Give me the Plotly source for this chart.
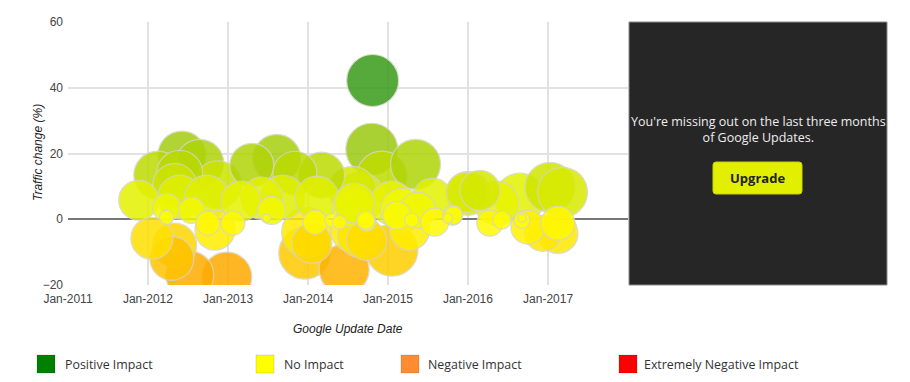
import plotly.graph_objects as go

# ---- data ----
update_dates = [
    "2012-06-04", "2012-08-25", "2012-02-15", "2012-05-25", "2012-05-02", "2012-11-15",
    "2012-05-25", "2012-09-26", "2011-11-20", "2012-03-26", "2012-03-26", "2012-07-18",
    "2012-10-01", "2013-01-23", "2012-11-02", "2012-01-19", "2012-05-02", "2012-04-19",
    "2012-07-10", "2012-12-26",
    "2013-04-19", "2013-08-11", "2013-11-02", "2014-03-04", "2013-06-04", "2013-09-08",
    "2013-07-19", "2013-06-26", "2014-02-11", "2014-07-23", "2014-07-23", "2014-02-02",
    "2014-04-19", "2014-05-25", "2014-09-26", "2013-12-26", "2014-01-19", "2013-12-17",
    "2014-06-15", "2014-07-23", "2014-09-26", "2013-03-01",
    "2014-10-23", "2014-10-19", "2014-12-04", "2015-05-07", "2014-08-02", "2014-08-25",
    "2015-01-19", "2015-03-08", "2014-09-22", "2015-02-11", "2015-04-19", "2015-05-16",
    "2015-07-23", "2015-08-02", "2015-10-01", "2015-10-28", "2015-12-26", "2015-01-19",
    "2014-08-25", "2015-04-10",
    "2016-01-01", "2016-05-11", "2016-08-25", "2017-01-10", "2017-03-08", "2016-02-25",
    "2016-04-10", "2016-06-04", "2015-10-23", "2016-09-04", "2016-09-04", "2016-10-01",
    "2017-02-15", "2017-02-15", "2016-12-08",
]
traffic_change = [
    19.5, 17.0, 13.4, 14.0, 10.3, 10.5,
    6.7, 6.7, 5.8, 3.6, 0.6, 2.7,
    -1.2, -1.2, -3.3, -5.8, -7.9, -11.9,
    -17.0, -17.6,
    16.4, 18.5, 14.0, 13.4, 6.4, 6.7,
    2.7, 0.3, 6.4, 8.8, 3.6, -0.9,
    -0.3, -0.9, -0.9, -4.0, -7.3, -10.3,
    -15.2, -3.3, -6.4, 5.5,
    42.2, 21.3, 13.1, 16.7, 4.9, 6.7,
    4.9, 2.7, -0.3, 1.2, -0.3, 2.7,
    6.4, -0.9, 0.3, 1.2, 8.2, -9.4,
    -4.9, -3.3,
    7.9, 4.9, 6.4, 9.7, 8.2, 8.8,
    -1.2, -0.3, 1.2, -0.3, 0.3, -2.4,
    -1.2, -4.3, -4.3,
]
impact_reach = [
    24, 24, 24, 23, 22, 24,
    22, 22, 20, 14, 7, 13,
    12, 12, 20, 21, 22, 22,
    24, 25,
    22, 24, 22, 23, 21, 22,
    14, 4, 22, 24, 20, 12,
    7, 7, 9, 25, 20, 26,
    25, 22, 20, 20,
    26, 26, 25, 25, 20, 25,
    22, 22, 9, 14, 7, 18,
    20, 14, 5, 9, 20, 26,
    22, 20,
    22, 22, 25, 25, 25, 20,
    13, 9, 10, 8, 4, 17,
    17, 20, 18,
]

x_ticks = ["2011-01-01", "2012-01-01", "2013-01-01", "2014-01-01",
           "2015-01-01", "2016-01-01", "2017-01-01"]
x_tick_labels = ["Jan-2011", "Jan-2012", "Jan-2013", "Jan-2014",
                 "Jan-2015", "Jan-2016", "Jan-2017"]
y_ticks = [-20, 0, 20, 40, 60]

legend_labels = ["Positive Impact", "No Impact", "Negative Impact", "Extremely Negative Impact"]
legend_colors = ["#008000", "#ffff00", "#ff8c33", "#ff0000"]

# draw larger bubbles first, smaller on top
order = sorted(range(len(impact_reach)), key=lambda i: -impact_reach[i])
xs = [update_dates[i] for i in order]
ys = [traffic_change[i] for i in order]
ss = [impact_reach[i] for i in order]

colorscale = [
    [0.0, "#ffa000"],
    [0.0769, "#ffb400"],
    [0.1846, "#ffd400"],
    [0.3077, "#ffff00"],
    [0.40, "#e4f200"],
    [0.5077, "#bedc00"],
    [0.6154, "#a2cc10"],
    [1.0, "#2c961c"],
]

fig = go.Figure()
fig.add_trace(go.Scatter(
    x=xs, y=ys, mode="markers",
    marker=dict(size=ss, sizemode="diameter", sizeref=0.5,
                color=ys, colorscale=colorscale, cmin=-20, cmax=45,
                opacity=0.85, line=dict(color="#d6d6c6", width=1.2)),
    hoverinfo="x+y", showlegend=False,
))

W, H = 910, 382
L, R, T, B = 68, 282, 22, 97
pw, ph = W - L - R, H - T - B

def px(x):
    return (x - L) / pw

def py(y):
    return (H - B - y) / ph

shapes = []
annotations = []

# dark upgrade panel
shapes.append(dict(type="rect", xref="paper", yref="paper",
                   x0=px(629), x1=px(887), y0=py(285), y1=py(22),
                   fillcolor="#262626", line=dict(color="#8a8a8a", width=1), layer="above"))
# rounded button
bx0, bx1, by0, by1 = px(713), px(802), py(194), py(162)
rx, ry = 3 / pw, 3 / ph
path = (f"M {bx0+rx},{by0} L {bx1-rx},{by0} Q {bx1},{by0} {bx1},{by0+ry} "
        f"L {bx1},{by1-ry} Q {bx1},{by1} {bx1-rx},{by1} L {bx0+rx},{by1} "
        f"Q {bx0},{by1} {bx0},{by1-ry} L {bx0},{by0+ry} Q {bx0},{by0} {bx0+rx},{by0} Z")
shapes.append(dict(type="path", xref="paper", yref="paper", path=path,
                   fillcolor="#e2ef00", line=dict(color="#c8d400", width=1), layer="above"))
annotations.append(dict(xref="paper", yref="paper", x=px(758), y=py(129.5),
                        xanchor="center", yanchor="middle",
                        text="You're missing out on the last three months<br>of Google Updates.",
                        showarrow=False, align="center",
                        font=dict(family="Open Sans", size=12.5, color="#eeeeee")))
annotations.append(dict(xref="paper", yref="paper", x=px(757.5), y=py(177.5),
                        xanchor="center", yanchor="middle",
                        text="<b>Upgrade</b>", showarrow=False,
                        font=dict(family="Open Sans", size=13, color="#222222")))

# axis titles
annotations.append(dict(xref="paper", yref="paper", x=px(38), y=py(153),
                        xanchor="center", yanchor="middle",
                        text="<i>Traffic change (%)</i>", textangle=-90, showarrow=False,
                        font=dict(family="Liberation Sans, Arial", size=12, color="#222222")))
annotations.append(dict(xref="paper", yref="paper", x=px(348), y=py(329),
                        xanchor="center", yanchor="middle",
                        text="<i>Google Update Date</i>", showarrow=False,
                        font=dict(family="Liberation Sans, Arial", size=12, color="#222222")))

# custom legend
sq_left = [37, 256, 401, 619]
txt_left = [63, 282, 426, 642]
for lab, col, sx, tx in zip(legend_labels, legend_colors, sq_left, txt_left):
    shapes.append(dict(type="rect", xref="paper", yref="paper",
                       x0=px(sx), x1=px(sx + 18), y0=py(373), y1=py(355),
                       fillcolor=col, line=dict(color="rgba(0,0,0,0.12)", width=1)))
    annotations.append(dict(xref="paper", yref="paper", x=px(tx), y=py(364),
                            xanchor="left", yanchor="middle", text=lab, showarrow=False,
                            font=dict(family="Open Sans", size=12.4, color="#333333")))

fig.update_layout(
    width=W, height=H,
    margin=dict(l=L, r=R, t=T, b=B, pad=0),
    paper_bgcolor="white", plot_bgcolor="white",
    shapes=shapes, annotations=annotations,
    showlegend=False,
    xaxis=dict(type="date", range=["2011-01-01", "2018-01-01"],
               tickvals=x_ticks, ticktext=x_tick_labels,
               showgrid=True, gridcolor="#e2e2e2", gridwidth=1.5,
               zeroline=False, showline=False, ticks="", ticklabelstandoff=5,
               tickfont=dict(family="Liberation Sans, Arial", size=12, color="#444444")),
    yaxis=dict(range=[-20, 60], tickvals=y_ticks,
               showgrid=True, gridcolor="#e2e2e2", gridwidth=1.5,
               zeroline=True, zerolinecolor="#777777", zerolinewidth=1.5,
               showline=False, ticks="", ticklabelstandoff=4,
               tickfont=dict(family="Liberation Sans, Arial", size=12, color="#444444")),
)

fig.write_html("out.html", config={"displayModeBar": False},
               post_script="document.body.style.margin='0';document.body.style.overflow='hidden';")
